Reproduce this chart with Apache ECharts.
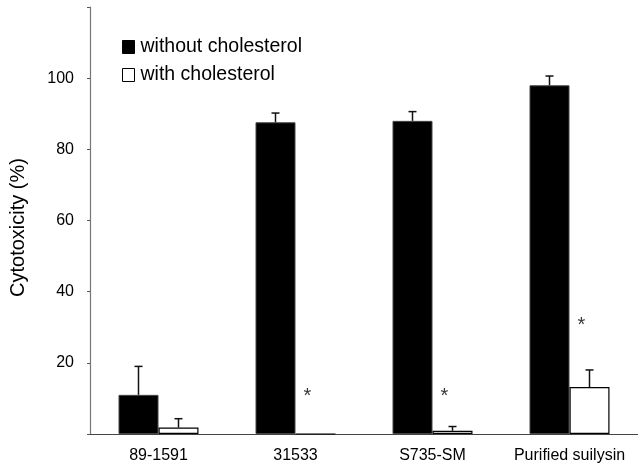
<!DOCTYPE html>
<html>
<head>
<meta charset="utf-8">
<script src="https://cdn.jsdelivr.net/npm/echarts@6/dist/echarts.min.js"></script>
<style>html,body{margin:0;padding:0;background:#fff;}#c{width:638px;height:468px;}</style>
</head>
<body>
<div id="c"></div>
<script>
const categories = ['89-1591', '31533', 'S735-SM', 'Purified suilysin'];
const withoutChol = [11, 87.6, 88, 98];
const withoutCholErr = [8, 2.6, 2.6, 2.6];
const withChol = [1.8, 0, 0.9, 13.2];
const withCholErr = [2.5, 0, 1.2, 4.8];
const asteriskY = [null, 12, 12, 32];
const yTicks = [20, 40, 60, 80, 100];

const FONT = 'Liberation Sans, Arial, sans-serif';
const BAR_W = 40;

const errData = [];
categories.forEach((c, i) => {
  errData.push([i, withoutChol[i], withoutCholErr[i], -1]);
  if (withCholErr[i] > 0) errData.push([i, withChol[i], withCholErr[i], 1]);
});

const chart = echarts.init(document.getElementById('c'), null, {renderer: 'canvas'});
chart.setOption({
  animation: false,
  backgroundColor: '#fff',
  grid: {left: 90, right: -4, top: 7, bottom: 34, containLabel: false},
  legend: {
    orient: 'vertical', left: 122, top: 37, padding: 0, itemWidth: 12, itemHeight: 13, itemGap: 8,
    textStyle: {fontFamily: FONT, fontSize: 19.5, color: '#000', padding: [0, 0, 0, 1]},
    data: [
      {name: 'without cholesterol', icon: 'rect', itemStyle: {color: '#000', borderColor: '#000', borderWidth: 1}},
      {name: 'with cholesterol', icon: 'rect', itemStyle: {color: '#fff', borderColor: '#000', borderWidth: 1}}
    ]
  },
  xAxis: {
    type: 'category', data: categories,
    axisLine: {lineStyle: {color: '#444', width: 1.2}},
    axisTick: {show: false},
    axisLabel: {fontFamily: FONT, fontSize: 16, color: '#000', margin: 14, interval: 0}
  },
  yAxis: {
    type: 'value', min: 0, max: 120, interval: 20,
    name: 'Cytotoxicity (%)', nameLocation: 'middle', nameGap: 62, nameRotate: 90,
    nameTextStyle: {fontFamily: FONT, fontSize: 20, color: '#000', padding: [0, 14, 0, 0]},
    axisLine: {show: true, lineStyle: {color: '#777', width: 1.2}},
    axisTick: {show: true, length: 3, lineStyle: {color: '#555'}},
    splitLine: {show: false},
    axisLabel: {
      fontFamily: FONT, fontSize: 16, color: '#000', margin: 16,
      formatter: v => (yTicks.indexOf(v) >= 0 ? String(v) : '')
    }
  },
  series: [
    {
      name: 'without cholesterol', type: 'bar', data: withoutChol, barWidth: BAR_W, barGap: '0%',
      itemStyle: {color: '#000', borderColor: '#444', borderWidth: 1}
    },
    {
      name: 'with cholesterol', type: 'bar', data: withChol, barWidth: BAR_W, barGap: '0%',
      itemStyle: {color: '#fff', borderColor: '#000', borderWidth: 1.2}
    },
    {
      type: 'custom', data: errData, z: 5,
      renderItem: (params, api) => {
        const i = api.value(0), v = api.value(1), e = api.value(2), side = api.value(3);
        const base = api.coord([i, v]);
        const top = api.coord([i, v + e]);
        const x = base[0] + side * BAR_W / 2;
        return {
          type: 'group', children: [
            {type: 'line', shape: {x1: x, y1: base[1], x2: x, y2: top[1]}, style: {stroke: '#111', lineWidth: 1.5}},
            {type: 'line', shape: {x1: x - 4, y1: top[1], x2: x + 4, y2: top[1]}, style: {stroke: '#111', lineWidth: 1.5}}
          ]
        };
      }
    },
    {
      type: 'scatter', data: asteriskY, symbolSize: 0, z: 6,
      label: {show: true, position: 'inside', formatter: '*', offset: [12, 5], fontFamily: FONT, fontSize: 20, color: '#000'}
    }
  ]
});
</script>
</body>
</html>
